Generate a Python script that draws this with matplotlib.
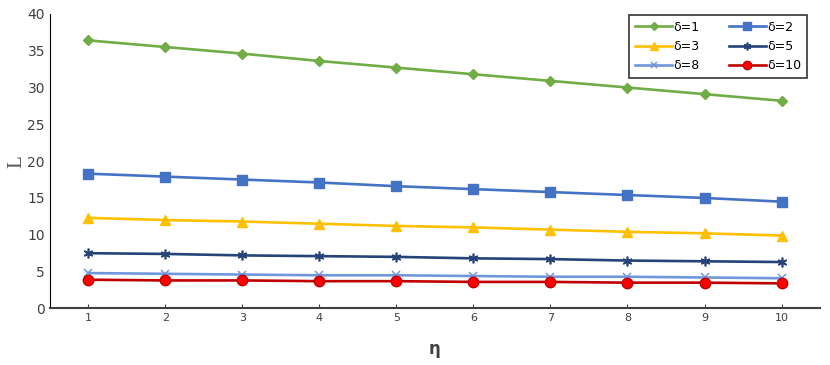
import matplotlib.pyplot as plt

eta = [1, 2, 3, 4, 5, 6, 7, 8, 9, 10]
L_d1 = [36.4, 35.5, 34.6, 33.6, 32.7, 31.8, 30.9, 30.0, 29.1, 28.2]
L_d2 = [18.3, 17.9, 17.5, 17.1, 16.6, 16.2, 15.8, 15.4, 15.0, 14.5]
L_d3 = [12.3, 12.0, 11.8, 11.5, 11.2, 11.0, 10.7, 10.4, 10.2, 9.9]
L_d5 = [7.5, 7.4, 7.2, 7.1, 7.0, 6.8, 6.7, 6.5, 6.4, 6.3]
L_d8 = [4.8, 4.7, 4.6, 4.5, 4.5, 4.4, 4.3, 4.3, 4.2, 4.1]
L_d10 = [3.9, 3.8, 3.8, 3.7, 3.7, 3.6, 3.6, 3.5, 3.5, 3.4]

fig = plt.figure(figsize=(8.3, 3.65), dpi=100)
ax = fig.add_axes([0.060, 0.155, 0.928, 0.807])

h1, = ax.plot(eta, L_d1, color='#70AD47', lw=1.9, marker='D', ms=5.5, label='δ=1')
h2, = ax.plot(eta, L_d2, color='#4472C4', lw=1.9, marker='s', ms=7, label='δ=2')
h3, = ax.plot(eta, L_d3, color='#FFC000', lw=1.9, marker='^', ms=7.5, label='δ=3')
h5, = ax.plot(eta, L_d5, color='#264478', lw=1.9, marker=(6, 2, 0), ms=7, mew=1.2, label='δ=5')
h8, = ax.plot(eta, L_d8, color='#7096DC', lw=1.9, marker='x', ms=6, mew=1.1, label='δ=8')
h10, = ax.plot(eta, L_d10, color='#C00000', lw=1.9, marker='o', ms=7.5,
               mfc='#FF0000', mec='#C00000', label='δ=10')

ax.set_xlim(0.5, 10.5)
ax.set_ylim(0, 40)
ax.set_xticks(eta)
ax.set_yticks(range(0, 41, 5))
ax.tick_params(axis='x', labelsize=8, length=3, direction='in', color='#404040',
               labelcolor='#404040')
ax.tick_params(axis='y', labelsize=10, length=0, labelcolor='#404040')
for s in ['top', 'right']:
    ax.spines[s].set_visible(False)
ax.spines['left'].set_color('black')
ax.spines['bottom'].set_color('#404040')
ax.spines['bottom'].set_linewidth(1.5)

ax.set_xlabel('η', fontsize=12, fontweight='bold', color='#404040', labelpad=12)
ax.set_ylabel('L', fontsize=15, family='Liberation Serif', color='#595959', labelpad=1)

# legend filled row by row like the original
handles = [h1, h3, h8, h2, h5, h10]
leg = ax.legend(handles=handles, ncol=2, loc='upper right',
                bbox_to_anchor=(0.985, 1.0),
                fontsize=9, frameon=True, fancybox=False, edgecolor='black',
                handlelength=3.0, columnspacing=2.3, handletextpad=0.1,
                borderpad=0.45, labelspacing=0.5, markerscale=0.8,
                borderaxespad=0.1)
leg.get_frame().set_linewidth(1.2)

fig.savefig('out.png', dpi=100)
